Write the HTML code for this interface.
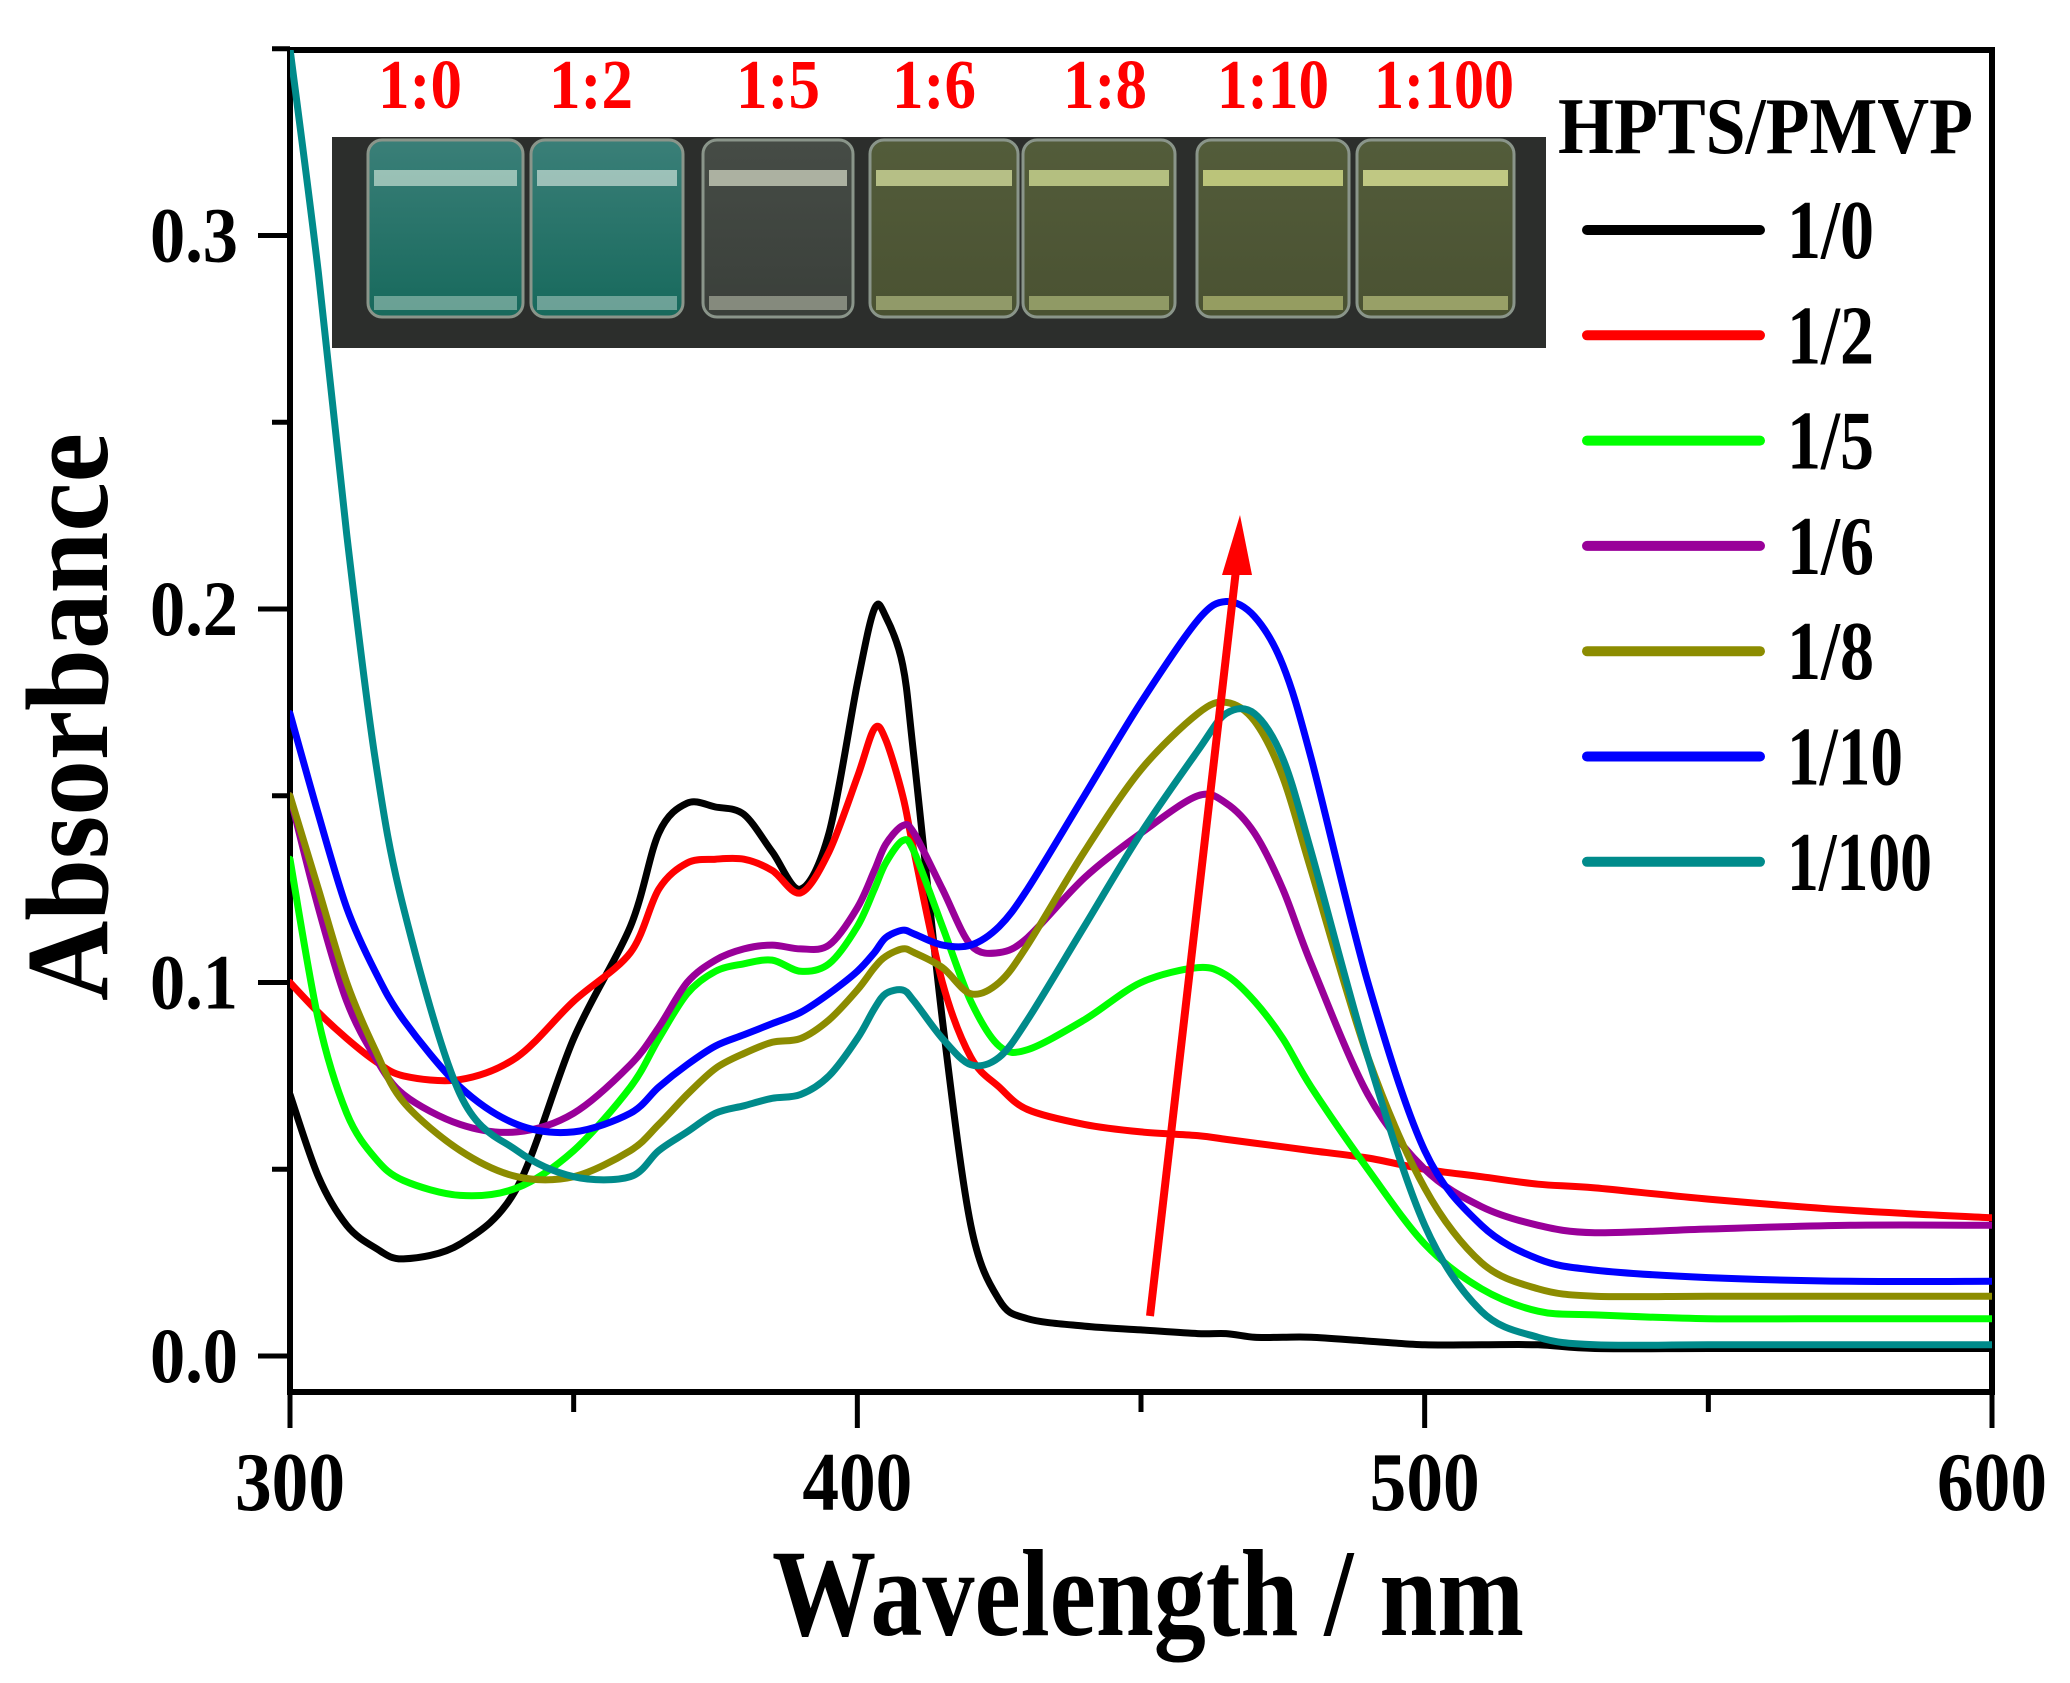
<!DOCTYPE html>
<html><head><meta charset="utf-8"><style>
html,body{margin:0;padding:0;background:#fff;}
svg{display:block;}
text{font-family:"Liberation Serif",serif;font-weight:bold;}
</style></head><body>
<svg id="chart" width="2070" height="1683" viewBox="0 0 2070 1683" xmlns="http://www.w3.org/2000/svg">
<defs>
<clipPath id="plotclip"><rect x="290" y="50" width="1702" height="1342"/></clipPath>
<linearGradient id="gTeal" x1="0" y1="0" x2="0" y2="1"><stop offset="0" stop-color="#3a7f78"/><stop offset="1" stop-color="#17695c"/></linearGradient>
<linearGradient id="gGray" x1="0" y1="0" x2="0" y2="1"><stop offset="0" stop-color="#464c46"/><stop offset="1" stop-color="#3a3f3a"/></linearGradient>
<linearGradient id="gYel" x1="0" y1="0" x2="0" y2="1"><stop offset="0" stop-color="#535c3a"/><stop offset="1" stop-color="#4a5232"/></linearGradient>
</defs>
<g id="inset"></g>
<g id="axes"></g>
<g id="series" clip-path="url(#plotclip)"></g>
<g id="legend"></g>
</svg>
<script>
const wavelengths=[300,305,310,315,320,330,340,350,360,365,370,375,380,385,390,395,400,403,405,408,410,415,420,425,430,440,450,460,465,470,475,480,490,500,510,520,530,550,575,600];
const s_1_0=[0.07,0.048,0.035,0.029,0.026,0.03,0.045,0.085,0.115,0.14,0.148,0.147,0.145,0.135,0.125,0.14,0.18,0.2,0.198,0.185,0.16,0.09,0.035,0.015,0.01,0.008,0.007,0.006,0.006,0.005,0.005,0.005,0.004,0.003,0.003,0.003,0.002,0.002,0.002,0.002];
const s_1_2=[0.1,0.092,0.085,0.079,0.075,0.074,0.08,0.095,0.108,0.125,0.132,0.133,0.133,0.13,0.124,0.135,0.155,0.168,0.165,0.15,0.135,0.1,0.08,0.072,0.066,0.062,0.06,0.059,0.058,0.057,0.056,0.055,0.053,0.05,0.048,0.046,0.045,0.042,0.039,0.037];
const s_1_5=[0.133,0.09,0.065,0.053,0.047,0.043,0.045,0.055,0.072,0.085,0.097,0.103,0.105,0.106,0.103,0.105,0.115,0.125,0.132,0.138,0.135,0.115,0.095,0.083,0.082,0.09,0.1,0.104,0.102,0.095,0.085,0.072,0.05,0.03,0.018,0.012,0.011,0.01,0.01,0.01];
const s_1_6=[0.15,0.12,0.095,0.08,0.07,0.062,0.06,0.065,0.078,0.088,0.1,0.106,0.109,0.11,0.109,0.11,0.12,0.13,0.137,0.142,0.14,0.125,0.11,0.108,0.112,0.128,0.14,0.15,0.148,0.14,0.125,0.105,0.07,0.05,0.04,0.035,0.033,0.034,0.035,0.035];
const s_1_8=[0.15,0.125,0.1,0.082,0.068,0.055,0.048,0.048,0.055,0.062,0.07,0.077,0.081,0.084,0.085,0.09,0.098,0.104,0.107,0.109,0.108,0.104,0.097,0.1,0.11,0.135,0.157,0.172,0.175,0.17,0.155,0.13,0.08,0.045,0.025,0.018,0.016,0.016,0.016,0.016];
const s_1_10=[0.172,0.145,0.12,0.103,0.09,0.072,0.062,0.06,0.065,0.072,0.078,0.083,0.086,0.089,0.092,0.097,0.103,0.108,0.112,0.114,0.113,0.11,0.11,0.115,0.125,0.15,0.175,0.197,0.202,0.198,0.185,0.16,0.1,0.055,0.035,0.026,0.023,0.021,0.02,0.02];
const s_1_100=[0.35,0.29,0.22,0.16,0.12,0.07,0.055,0.048,0.048,0.055,0.06,0.065,0.067,0.069,0.07,0.075,0.085,0.093,0.097,0.098,0.095,0.085,0.078,0.08,0.09,0.115,0.14,0.162,0.172,0.172,0.16,0.135,0.08,0.035,0.012,0.005,0.003,0.003,0.003,0.003];
const seriesLabels=["1/0","1/2","1/5","1/6","1/8","1/10","1/100"];
const seriesColors=["#000000","#ff0000","#00ff00","#990099","#8c8c00","#0000ff","#008b8b"];
const xTicks=[300,400,500,600];
const xMinorTicks=[350,450,550];
const yTicks=[0.0,0.1,0.2,0.3];
const yTickLabels=["0.0","0.1","0.2","0.3"];
const vialLabels=["1:0","1:2","1:5","1:6","1:8","1:10","1:100"];

const NS="http://www.w3.org/2000/svg";
function X(w){return 290+(w-300)*(1702/300);}
function Y(a){return 1356-a*3735;}
function mk(tag,attrs,parent){const e=document.createElementNS(NS,tag);for(const k in attrs)e.setAttribute(k,attrs[k]);parent.appendChild(e);return e;}
function smoothPath(P){
  let d='M'+P[0][0].toFixed(1)+','+P[0][1].toFixed(1);
  for(let i=0;i<P.length-1;i++){
    const p0=P[Math.max(0,i-1)],p1=P[i],p2=P[i+1],p3=P[Math.min(P.length-1,i+2)];
    const t=0.16;
    const c1=[p1[0]+(p2[0]-p0[0])*t,p1[1]+(p2[1]-p0[1])*t];
    const c2=[p2[0]-(p3[0]-p1[0])*t,p2[1]-(p3[1]-p1[1])*t];
    d+=' C'+c1[0].toFixed(1)+','+c1[1].toFixed(1)+' '+c2[0].toFixed(1)+','+c2[1].toFixed(1)+' '+p2[0].toFixed(1)+','+p2[1].toFixed(1);
  }
  return d;
}

// inset photo
const inset=document.getElementById('inset');
mk('rect',{x:332,y:137,width:1214,height:211,fill:'#2c2e2c'},inset);
const vx=[[368,523],[531,683],[703,853],[870,1018],[1023,1175],[1197,1349],[1357,1514]];
const vf=['url(#gTeal)','url(#gTeal)','url(#gGray)','url(#gYel)','url(#gYel)','url(#gYel)','url(#gYel)'];
const vm=['#bcd8cc','#c0d8d0','#cfd4c0','#d8e2a0','#d6e298','#dfe890','#e6ee9c'];
vx.forEach((v,i)=>{
  const r=mk('rect',{x:v[0],y:140,width:v[1]-v[0],height:177,rx:14,fill:vf[i],stroke:'#8a958a','stroke-width':3},inset);
  
  
  mk('rect',{x:v[0]+6,y:170,width:v[1]-v[0]-12,height:16,fill:vm[i],opacity:0.75},inset);
  mk('rect',{x:v[0]+6,y:296,width:v[1]-v[0]-12,height:14,fill:vm[i],opacity:0.5},inset);
});
const lx=[420,591,778,934,1105,1273,1444];
vialLabels.forEach((t,i)=>{
  const e=mk('text',{x:lx[i],y:108,'text-anchor':'middle','font-size':70,fill:'#ff0000',textLength:(t.length*28),lengthAdjust:'spacingAndGlyphs'},inset);
  e.textContent=t;
  
  
});

// axes
const ax=document.getElementById('axes');
const frame=mk('rect',{x:290,y:50,width:1702,height:1342,fill:'none',stroke:'#000','stroke-width':6},ax);


xTicks.forEach(w=>{
  mk('line',{x1:X(w),y1:1392,x2:X(w),y2:1428,stroke:'#000','stroke-width':5},ax);
  const t=mk('text',{x:X(w),y:1510,'text-anchor':'middle','font-size':84,textLength:110,lengthAdjust:'spacingAndGlyphs'},ax);
  t.textContent=String(w);
  
  
});
xMinorTicks.forEach(w=>{mk('line',{x1:X(w),y1:1392,x2:X(w),y2:1412,stroke:'#000','stroke-width':5},ax);});
yTicks.forEach((v,i)=>{
  mk('line',{x1:258,y1:Y(v),x2:290,y2:Y(v),stroke:'#000','stroke-width':5},ax);
  mk('line',{x1:272,y1:Y(v+0.05),x2:290,y2:Y(v+0.05),stroke:'#000','stroke-width':5},ax);
  const t=mk('text',{x:150,y:Y(v)+26,'font-size':78,textLength:88,lengthAdjust:'spacingAndGlyphs'},ax);
  t.textContent=yTickLabels[i];
  
  
});
const xt=mk('text',{x:772,y:1635,'font-size':124,textLength:752,lengthAdjust:'spacingAndGlyphs'},ax);
xt.textContent='Wavelength / nm';


const yt=mk('text',{x:0,y:0,'font-size':118,textLength:568,lengthAdjust:'spacingAndGlyphs',transform:'translate(107,1001) rotate(-90)'},ax);
yt.textContent='Absorbance';



// series
const sg=document.getElementById('series');
const allSeries=[s_1_0,s_1_2,s_1_5,s_1_6,s_1_8,s_1_10,s_1_100];
allSeries.forEach((vals,i)=>{
  const P=wavelengths.map((w,j)=>[X(w),Y(vals[j])]);
  const p=mk('path',{d:smoothPath(P),fill:'none',stroke:seriesColors[i],'stroke-width':7,'stroke-linejoin':'round','stroke-linecap':'round'},sg);
  
  
});
// arrow
const arr=mk('line',{x1:1150,y1:1316,x2:1236,y2:570,stroke:'#ff0000','stroke-width':8},sg);


mk('polygon',{points:'1240,515 1222,575 1252,575',fill:'#ff0000'},sg);

// legend
const lg=document.getElementById('legend');
const lt=mk('text',{x:1558,y:153,'font-size':80,textLength:415,lengthAdjust:'spacingAndGlyphs'},lg);
lt.textContent='HPTS/PMVP';


seriesLabels.forEach((s,i)=>{
  const y=230+i*105.3;
  const l=mk('line',{x1:1587,y1:y,x2:1760,y2:y,stroke:seriesColors[i],'stroke-width':10,'stroke-linecap':'round'},lg);
  
  
  const t=mk('text',{x:1787,y:y+28,'font-size':84,textLength:s.length*29,lengthAdjust:'spacingAndGlyphs'},lg);
  t.textContent=s;
  
  
});
</script>
</body></html>
